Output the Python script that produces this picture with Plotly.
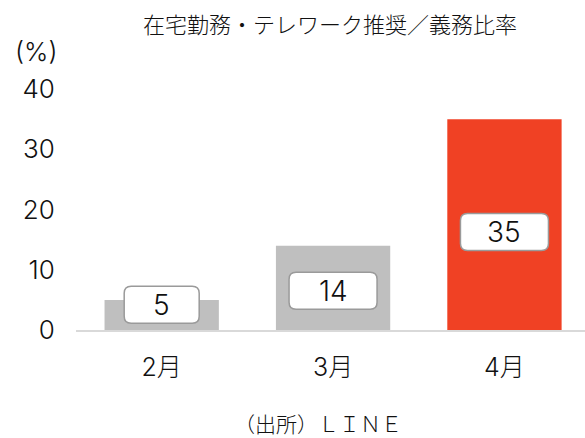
import plotly.graph_objects as go

# Data
months = ["2月", "3月", "4月"]
rates = [5, 14, 35]
bar_colors = ["#bfbfbf", "#bfbfbf", "#f04124"]
y_ticks = [0, 10, 20, 30, 40]

title_text = "在宅勤務・テレワーク推奨／義務比率"
unit_text = "(%)"
source_text = "（出所）ＬＩＮＥ"

FONT = "Inter, Noto Sans CJK JP, sans-serif"
CJK = "Noto Sans CJK JP, Inter, sans-serif"
LIGHT = 300

W, H = 585, 438
M_L, M_R, M_T, M_B = 76, 0, 89, 108

fig = go.Figure()
fig.add_trace(go.Bar(
    x=list(range(len(months))),
    y=rates,
    marker=dict(color=bar_colors, line=dict(width=0)),
    width=0.667,
    hoverinfo="skip",
))

# label placement inside the bars (data units on the y axis)
label_y = [max(v * 0.465, 4.2) for v in rates]


def rounded_rect(w, h, r):
    x0, x1 = -w / 2, w / 2
    y0, y1 = -h / 2, h / 2
    return (
        f"M{x0 + r},{y0} L{x1 - r},{y0} Q{x1},{y0} {x1},{y0 + r} "
        f"L{x1},{y1 - r} Q{x1},{y1} {x1 - r},{y1} "
        f"L{x0 + r},{y1} Q{x0},{y1} {x0},{y1 - r} "
        f"L{x0},{y0 + r} Q{x0},{y0} {x0 + r},{y0} Z"
    )


shapes = []
annotations = []
for i, v in enumerate(rates):
    txt = str(v)
    box_w = 62 + 13 * len(txt)
    shapes.append(dict(
        type="path", xref="x", yref="y",
        xsizemode="pixel", ysizemode="pixel",
        xanchor=i, yanchor=label_y[i],
        path=rounded_rect(box_w, 37, 7),
        fillcolor="white",
        line=dict(color="#9a9a9a", width=1.5),
        layer="above",
    ))
    annotations.append(dict(
        x=i, y=label_y[i], xref="x", yref="y",
        text=txt, showarrow=False,
        font=dict(family=FONT, size=28, color="#111111", weight=LIGHT),
        xanchor="center", yanchor="middle",
    ))

# page-level texts, placed in figure pixels
page_texts = [
    (title_text, 330, 23, CJK, 22),
    (unit_text, 36, 51, FONT, 26),
    (source_text, 318, 423, CJK, 21),
]
plot_w = W - M_L - M_R
plot_h = H - M_T - M_B
for text, px, py, fam, size in page_texts:
    annotations.append(dict(
        x=(px - M_L) / plot_w, y=1 - (py - M_T) / plot_h,
        xref="paper", yref="paper",
        text=text, showarrow=False,
        font=dict(family=fam, size=size, color="#111111", weight=LIGHT),
        xanchor="center", yanchor="middle",
    ))

fig.update_layout(
    width=W, height=H,
    margin=dict(l=M_L, r=M_R, t=M_T, b=M_B, pad=0),
    paper_bgcolor="white", plot_bgcolor="white",
    showlegend=False,
    shapes=shapes,
    annotations=annotations,
    xaxis=dict(
        range=[-0.5, 2.47],
        tickmode="array", tickvals=list(range(len(months))), ticktext=months,
        tickfont=dict(family=FONT, size=25, color="#111111", weight=LIGHT),
        showgrid=False, zeroline=False,
        showline=True, linecolor="#d9d9d9", linewidth=2,
        ticks="outside", ticklen=14, tickcolor="rgba(0,0,0,0)",
        fixedrange=True,
    ),
    yaxis=dict(
        range=[0, 40],
        tickmode="array", tickvals=y_ticks,
        tickfont=dict(family=FONT, size=26, color="#111111", weight=LIGHT),
        showgrid=False, zeroline=False, showline=False,
        ticks="outside", ticklen=15, tickcolor="rgba(0,0,0,0)",
        fixedrange=True,
    ),
)

fig.write_html("out.html", config={"displayModeBar": False})
